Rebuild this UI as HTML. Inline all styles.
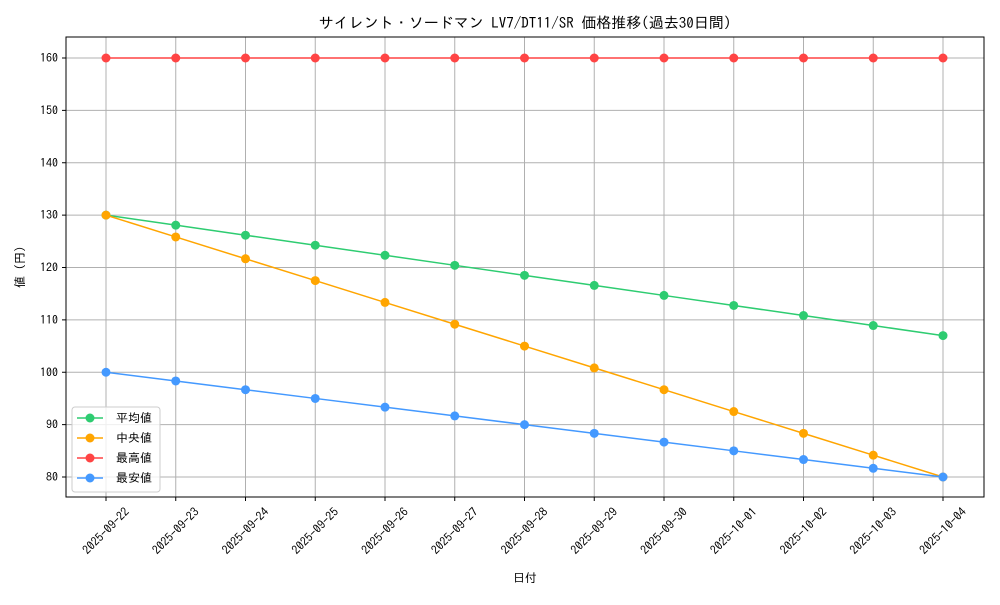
<!DOCTYPE html>
<html><head><meta charset="utf-8"><style>
body{margin:0;background:#fff;}
svg text{font-family:"IPAGothic","Liberation Sans","Noto Sans CJK JP",sans-serif;fill:#000;}
</style></head><body>
<svg width="1000" height="600" xmlns="http://www.w3.org/2000/svg">
<rect width="1000" height="600" fill="#fff"/>
<text x="525" y="28" font-size="15" text-anchor="middle">サイレント・ソードマン LV7/DT11/SR 価格推移(過去30日間)</text>
<g id="grid" stroke="#b0b0b0" stroke-width="1">
</g>
<g id="series"></g>
<rect x="66" y="37" width="918" height="460" fill="none" stroke="#000" stroke-width="1"/>
<g id="ticks" font-size="12"></g>
<text x="525" y="582" font-size="12" text-anchor="middle">日付</text>
<text transform="translate(24,267) rotate(-90)" font-size="12" text-anchor="middle">値 (円)</text>
<g>
<rect x="72" y="407" width="88" height="85" fill="#fff" fill-opacity="0.8" stroke="#ccc" rx="3"/>
<line x1="77" y1="418" x2="103" y2="418" stroke="#2ecc71" stroke-width="1.5"/><circle cx="90" cy="418" r="4.5" fill="#2ecc71"/><text x="116" y="422" font-size="12">平均値</text>
<line x1="77" y1="438" x2="103" y2="438" stroke="#ffa500" stroke-width="1.5"/><circle cx="90" cy="438" r="4.5" fill="#ffa500"/><text x="116" y="442" font-size="12">中央値</text>
<line x1="77" y1="458" x2="103" y2="458" stroke="#ff4444" stroke-width="1.5"/><circle cx="90" cy="458" r="4.5" fill="#ff4444"/><text x="116" y="462" font-size="12">最高値</text>
<line x1="77" y1="478" x2="103" y2="478" stroke="#4499ff" stroke-width="1.5"/><circle cx="90" cy="478" r="4.5" fill="#4499ff"/><text x="116" y="482" font-size="12">最安値</text>
</g>
<script>
const ns="http://www.w3.org/2000/svg";
const X=i=>106+i*69.75, Y=v=>477-(v-80)*5.2375;
const g=document.getElementById('grid'),t=document.getElementById('ticks'),s=document.getElementById('series');
function el(p,n,a){const e=document.createElementNS(ns,n);for(const k in a)e.setAttribute(k,a[k]);p.appendChild(e);return e;}
const dates=["2025-09-22","2025-09-23","2025-09-24","2025-09-25","2025-09-26","2025-09-27","2025-09-28","2025-09-29","2025-09-30","2025-10-01","2025-10-02","2025-10-03","2025-10-04"];
dates.forEach((d,i)=>{const x=X(i);el(g,'line',{x1:x,x2:x,y1:37,y2:497});el(t,'line',{x1:x,x2:x,y1:497,y2:501,stroke:'#000'});
const tx=el(t,'text',{x:x,y:535,'text-anchor':'middle',transform:`rotate(-45 ${x} 531)`});tx.textContent=d;});
for(let v=80;v<=160;v+=10){const y=Y(v);el(g,'line',{x1:66,x2:984,y1:y,y2:y});el(t,'line',{x1:62,x2:66,y1:y,y2:y,stroke:'#000'});
const tx=el(t,'text',{x:58,y:y+4,'text-anchor':'end'});tx.textContent=v;}
const ser=[["#ff4444",i=>160],["#2ecc71",i=>130-23*i/12],["#ffa500",i=>130-50*i/12],["#4499ff",i=>100-20*i/12]];
ser.forEach(([c,f])=>{let p=[];for(let i=0;i<13;i++)p.push(X(i)+','+Y(f(i)));
el(s,'polyline',{points:p.join(' '),fill:'none',stroke:c,'stroke-width':1.5});
for(let i=0;i<13;i++)el(s,'circle',{cx:X(i),cy:Y(f(i)),r:4.5,fill:c});});
</script>
</svg>
</body></html>
